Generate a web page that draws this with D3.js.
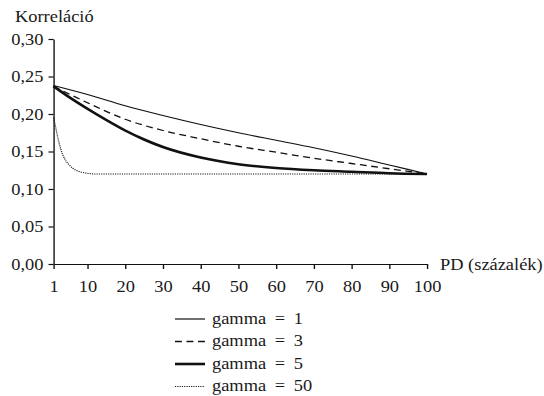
<!DOCTYPE html>
<html>
<head>
<meta charset="utf-8">
<script src="https://cdn.jsdelivr.net/npm/d3@7"></script>
<style>
  html, body { margin: 0; padding: 0; background: #fff; }
  svg { display: block; }
  text { font-family: "Liberation Serif", "Times New Roman", serif; font-size: 16px; fill: #1a1a1a; }
  .axis path, .axis line { stroke: #111; stroke-width: 1.2; }
</style>
</head>
<body>
<div id="chart"></div>
<script>
// PD (percent) positions and correlation
var pd_1 = [1, 10, 20, 30, 40, 50, 60, 70, 80, 90, 100];
var corr_1 = [0.238, 0.226, 0.211, 0.198, 0.186, 0.175, 0.165, 0.155, 0.144, 0.132, 0.120];

var pd_3 = [1, 5, 10, 20, 30, 40, 50, 60, 70, 80, 90, 100];
var corr_3 = [0.237, 0.227, 0.215, 0.193, 0.178, 0.167, 0.157, 0.149, 0.141, 0.134, 0.127, 0.120];

var pd_5 = [1, 5, 10, 15, 20, 25, 30, 40, 50, 60, 70, 80, 90, 100];
var corr_5 = [0.237, 0.223, 0.207, 0.192, 0.178, 0.166, 0.156, 0.142, 0.133, 0.128, 0.125, 0.123, 0.121, 0.120];

var pd_50 = [1, 1.5, 2, 2.5, 3, 4, 5, 6, 7, 8, 10, 12, 15, 100];
var corr_50 = [0.195, 0.184, 0.172, 0.161, 0.152, 0.140, 0.133, 0.128, 0.125, 0.123, 0.121, 0.120, 0.120, 0.120];

var series_names = ["gamma = 1", "gamma = 3", "gamma = 5", "gamma = 50"];

var x_ticks = [1, 10, 20, 30, 40, 50, 60, 70, 80, 90, 100];
var y_ticks = [0, 0.05, 0.10, 0.15, 0.20, 0.25, 0.30];

var y_title = "Korreláció";
var x_title = "PD (százalék)";

// the original is slightly stretched sideways; draw in narrower units and stretch
var SX = 1.15;
function px(v) { return v / SX; }

var chart = {
	w: 544,
	h: 396,
	padding: {l: 53.5, r: 427, t: 39, b: 264},
	svg: null
};

chart.svg = d3.select('#chart').append('svg')
	.attr('width', chart.w)
	.attr('height', chart.h)
	.attr('viewBox', '0 0 ' + px(chart.w) + ' ' + chart.h)
	.attr('preserveAspectRatio', 'none');

var x_scale = d3.scaleLinear()
	.domain([1, 100])
	.range([px(chart.padding.l), px(chart.padding.r)]);

var y_scale = d3.scaleLinear()
	.domain([0, 0.30])
	.range([chart.padding.b, chart.padding.t]);

var fmt = d => d3.format(".2f")(d).replace(".", ",");

var styles = [
	{width: 1.2, dash: null},
	{width: 1.3, dash: "6,4"},
	{width: 2.6, dash: null},
	{width: 1.1, dash: "1,1"}
];

var data = [
	pd_1.map((p, i) => [p, corr_1[i]]),
	pd_3.map((p, i) => [p, corr_3[i]]),
	pd_5.map((p, i) => [p, corr_5[i]]),
	pd_50.map((p, i) => [p, corr_50[i]])
];

var line = d3.line()
	.x(d => x_scale(d[0]))
	.y(d => y_scale(d[1]))
	.curve(d3.curveMonotoneX);

chart.svg.append('g')
	.selectAll('path')
	.data(data)
	.enter()
	.append('path')
		.attr('fill', 'none')
		.attr('stroke', '#111')
		.attr('stroke-width', (d, i) => styles[i].width)
		.attr('stroke-dasharray', (d, i) => styles[i].dash)
		.attr('d', line);

var x_axis = d3.axisBottom(x_scale)
	.tickValues(x_ticks)
	.tickFormat(d3.format("d"))
	.tickSize(5)
	.tickSizeOuter(0)
	.tickPadding(12);

var y_axis = d3.axisLeft(y_scale)
	.tickValues(y_ticks)
	.tickFormat(fmt)
	.tickSize(px(5))
	.tickSizeOuter(0)
	.tickPadding(px(5));

chart.svg.append('g')
		.attr('class', 'axis x')
		.attr('transform', 'translate(0,' + chart.padding.b + ')')
	.call(x_axis)
	.call(g => g.selectAll('text').attr('fill', '#1a1a1a').style('font-size', '16px'));

chart.svg.append('g')
		.attr('class', 'axis y')
		.attr('transform', 'translate(' + px(chart.padding.l) + ',0)')
	.call(y_axis)
	.call(g => g.selectAll('text').attr('fill', '#1a1a1a').style('font-size', '16px'));

chart.svg.append('text')
	.attr('x', px(15))
	.attr('y', 22)
	.text(y_title);

chart.svg.append('text')
	.attr('x', px(440))
	.attr('y', chart.padding.b)
	.attr('dy', '0.35em')
	.text(x_title);

// legend
var legend = chart.svg.append('g')
	.selectAll('g')
	.data(series_names)
	.enter()
	.append('g')
		.attr('transform', (d, i) => 'translate(0,' + (319 + i * 22.5) + ')');

legend.append('line')
	.attr('x1', px(175))
	.attr('x2', px(205))
	.attr('y1', 0)
	.attr('y2', 0)
	.attr('stroke', '#111')
	.attr('stroke-width', (d, i) => styles[i].width)
	.attr('stroke-dasharray', (d, i) => styles[i].dash);

legend.append('text')
	.attr('x', px(212))
	.attr('y', 4.5)
	.style('word-spacing', '3.5px')
	.text(d => d);
</script>
</body>
</html>
